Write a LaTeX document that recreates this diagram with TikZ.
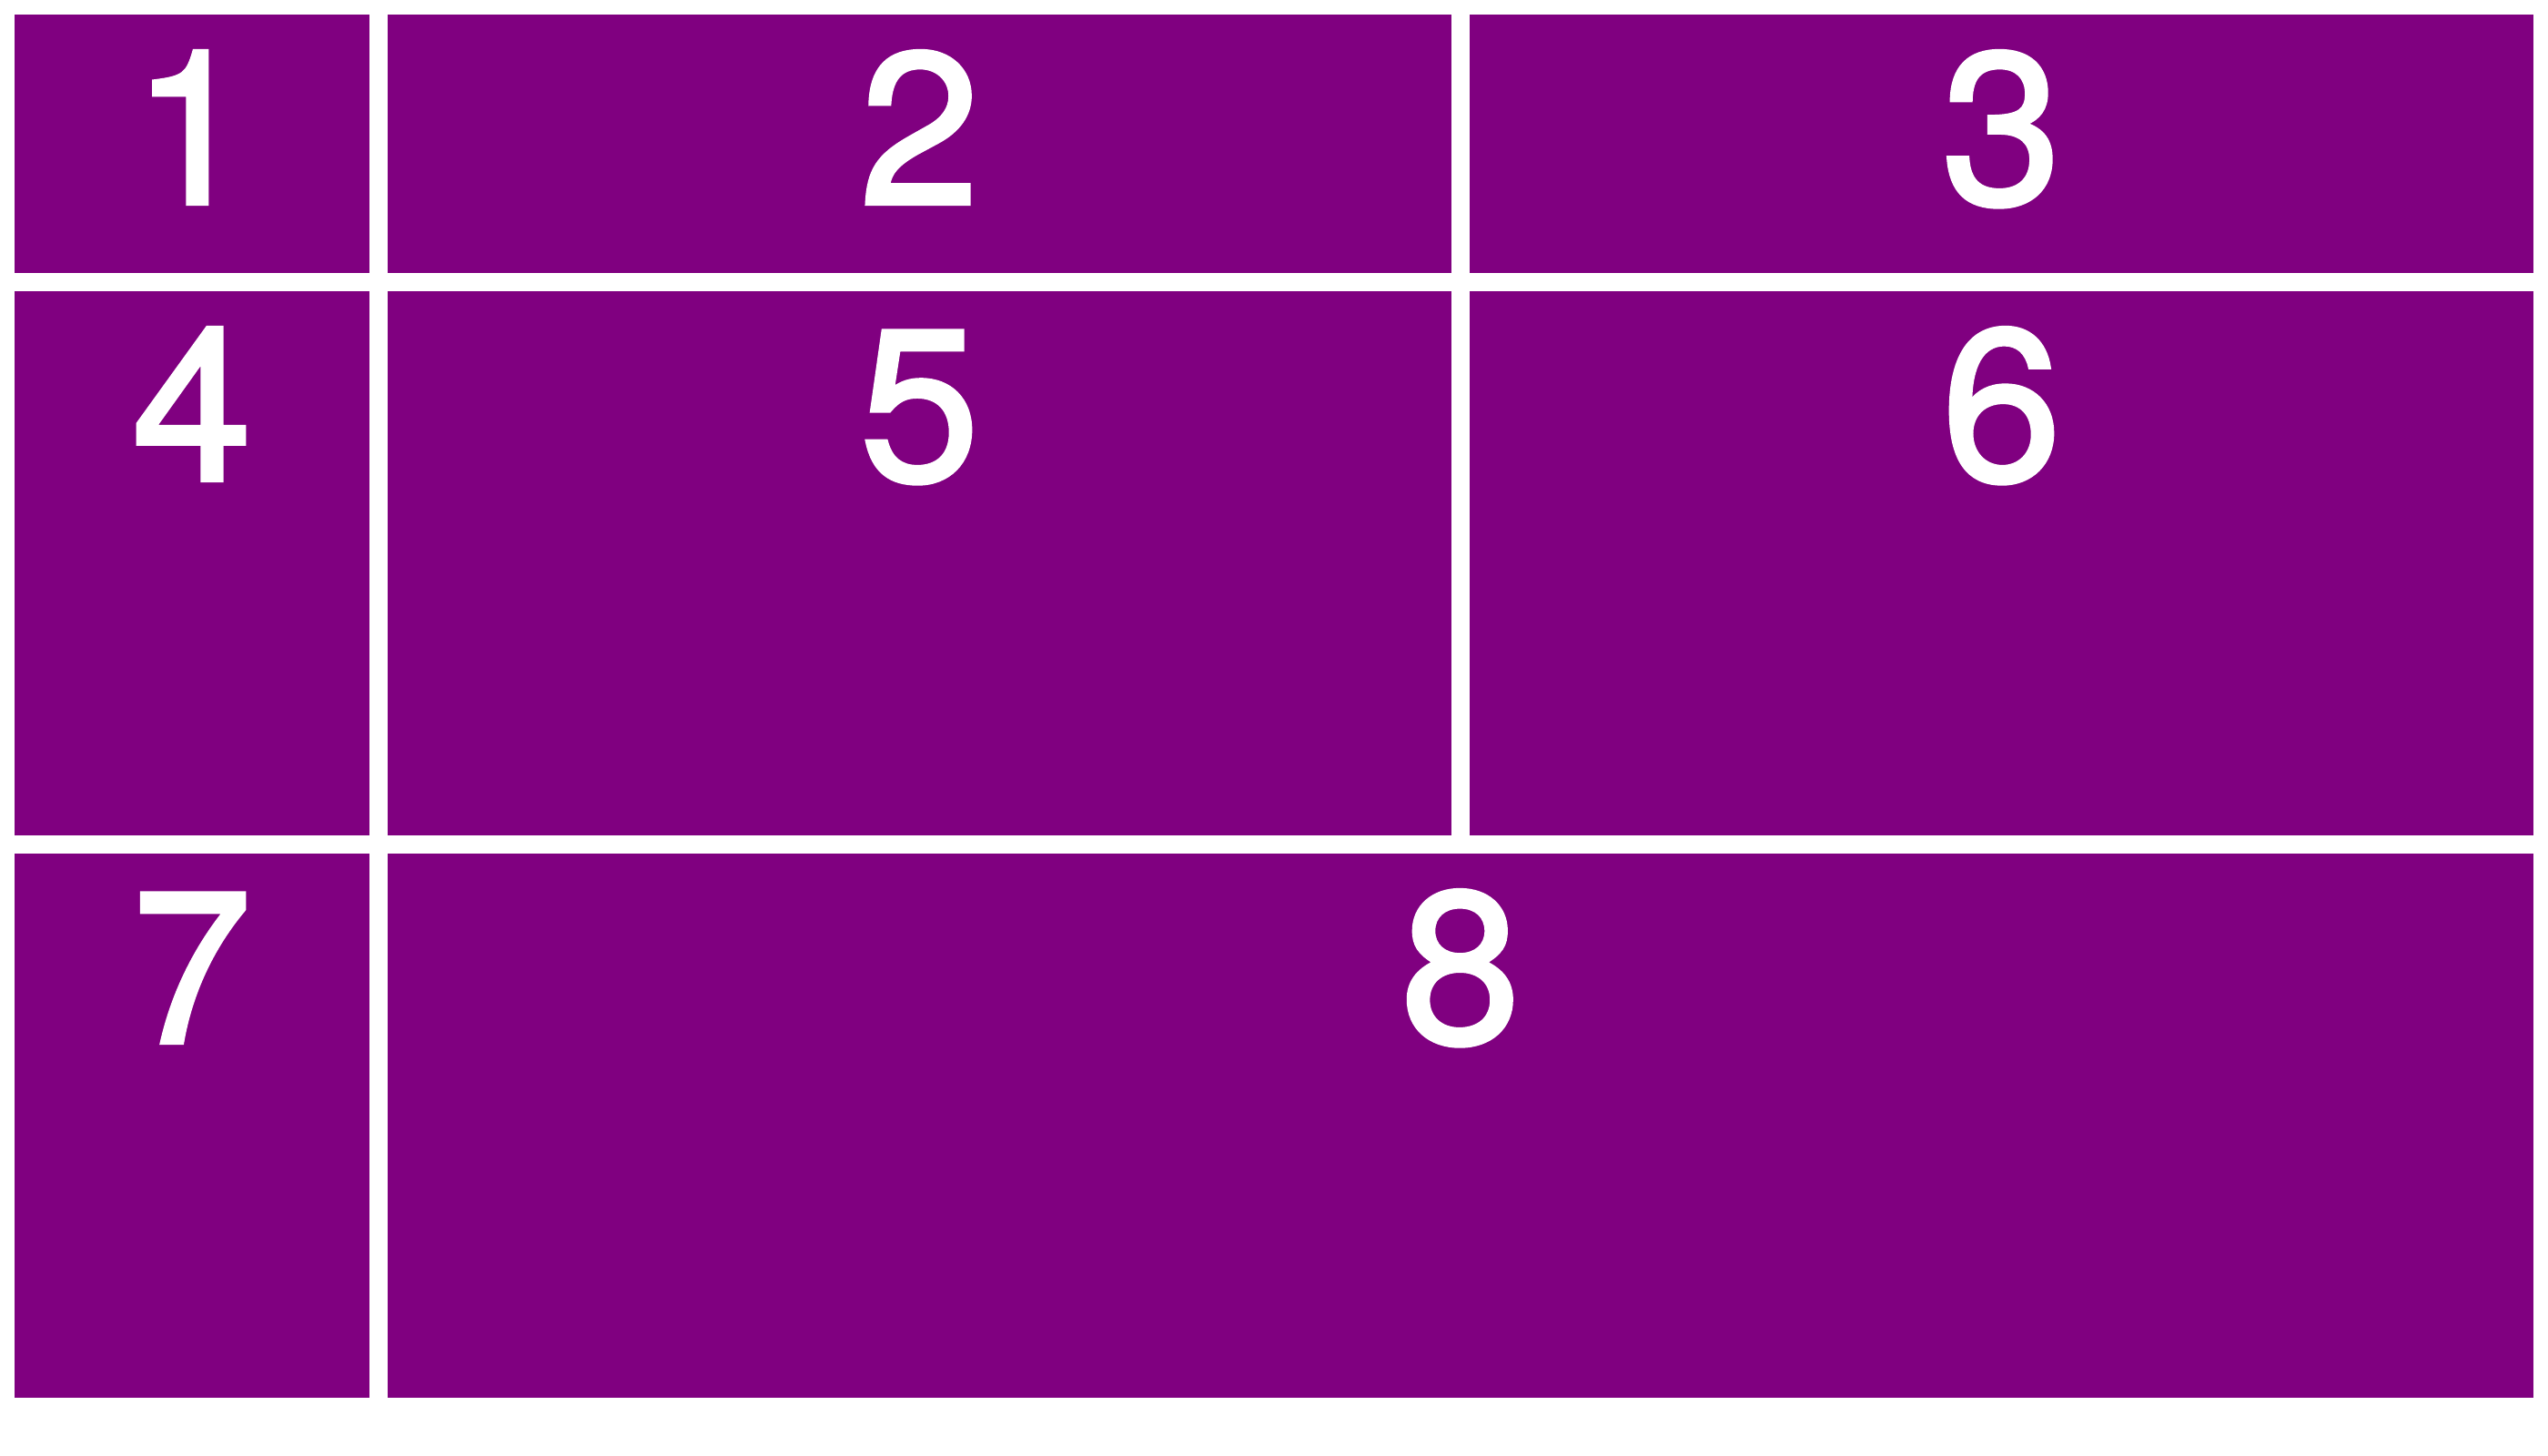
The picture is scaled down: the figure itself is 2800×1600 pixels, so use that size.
\documentclass[tikz,border=0pt]{standalone}
\usepackage{fontspec}
\setmainfont{TeX Gyre Heros}
\font\numfont="TeX Gyre Heros:embolden=1.8" at 118.5pt
\definecolor{cellpurple}{HTML}{800080}
\begin{document}
\begin{tikzpicture}[x=0.5pt,y=-0.5pt,
  cellfill/.style={fill=cellpurple},
  num/.style={anchor=base,inner sep=0pt,text=white,font=\numfont}]
\useasboundingbox (0,0) rectangle (2800,1600);
\fill[cellfill] (16,16) rectangle (406,300);
\fill[cellfill] (426,16) rectangle (1595,300);
\fill[cellfill] (1615,16) rectangle (2784,300);
\fill[cellfill] (16,320) rectangle (406,918);
\fill[cellfill] (426,320) rectangle (1595,918);
\fill[cellfill] (1615,320) rectangle (2784,918);
\fill[cellfill] (16,938) rectangle (406,1536);
\fill[cellfill] (426,938) rectangle (2784,1536);
\node[num] (n1) at (211,224) {1};
\node[num] (n2) at (1010.5,224) {2};
\node[num] (n3) at (2199.5,224) {3};
\node[num] (n4) at (211,528) {4};
\node[num] (n5) at (1010.5,528) {5};
\node[num] (n6) at (2199.5,528) {6};
\node[num] (n7) at (211,1146) {7};
\node[num] (n8) at (1605,1146) {8};
\end{tikzpicture}
\end{document}
